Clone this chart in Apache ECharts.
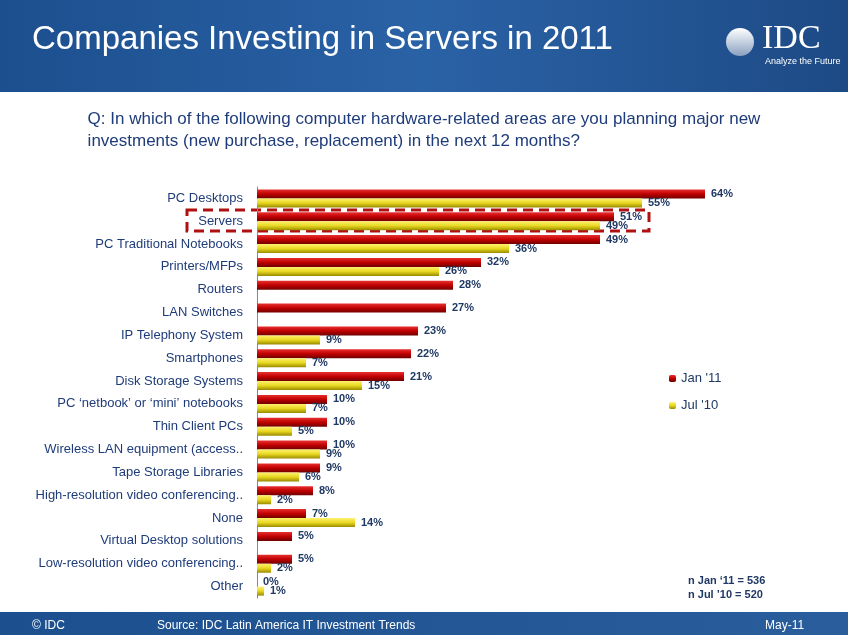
<!DOCTYPE html>
<html><head><meta charset="utf-8">
<script src="https://cdn.jsdelivr.net/npm/echarts@6/dist/echarts.min.js"></script>
<style>html,body{margin:0;padding:0;background:#fff}#c{width:848px;height:635px}</style>
</head><body><div id="c"></div>
<script>
const categories = ["PC Desktops","Servers","PC Traditional Notebooks","Printers/MFPs","Routers","LAN Switches","IP Telephony System","Smartphones","Disk Storage Systems","PC ‘netbook’ or ‘mini’ notebooks","Thin Client PCs","Wireless LAN equipment (access..","Tape Storage Libraries","High-resolution video conferencing..","None","Virtual Desktop solutions","Low-resolution video conferencing..","Other"];
const jan11 = [64,51,49,32,28,27,23,22,21,10,10,10,9,8,7,5,5,0];
const jul10 = [55,49,36,26,null,null,9,7,15,7,5,9,6,2,14,null,2,1];
const chart = echarts.init(document.getElementById('c'));
const lbl = {show:true,position:'right',distance:6,formatter:p=>p.value==null?'':p.value+'%',color:'#1f3864',fontWeight:'bold',fontSize:11,fontFamily:'Arial, Liberation Sans'};
chart.setOption({
  animation:false,
  graphic:[
    {type:'rect',shape:{x:0,y:0,width:848,height:92},style:{fill:new echarts.graphic.LinearGradient(0,0,1,0,[{offset:0,color:'#1c4f8e'},{offset:0.5,color:'#2a62a6'},{offset:1,color:'#1d4a85'}])}},
    {type:'text',left:32,top:23,style:{text:'Companies Investing in Servers in 2011',fill:'#fff',font:'33px Liberation Sans Narrow, Arial',shadowColor:'rgba(0,0,0,0.6)',shadowBlur:3,shadowOffsetX:2,shadowOffsetY:2}},
    {type:'text',left:762,top:22,style:{text:'IDC',fill:'#fff',font:'34px Liberation Serif, serif'}},
    {type:'text',left:765,top:57,style:{text:'Analyze the Future',fill:'#fff',font:'9px Liberation Sans Narrow, Arial'}},
    {type:'circle',shape:{cx:740,cy:42,r:14},style:{fill:new echarts.graphic.LinearGradient(0,0,0,1,[{offset:0,color:'#ffffff'},{offset:1,color:'#8aa0c0'}])}},
    {type:'text',left:'center',top:108,style:{text:'Q: In which of the following computer hardware-related areas are you planning major new\ninvestments (new purchase, replacement) in the next 12 months?',fill:'#1f3c7a',font:'17px Arial, Liberation Sans',align:'center',lineHeight:22}},
    {type:'rect',shape:{x:187,y:210,width:462,height:21},style:{fill:'none',stroke:'#b01010',lineWidth:3,lineDash:[10,6]}},
    {type:'text',left:688,top:574,style:{text:'n Jan ‘11 = 536\nn Jul ’10 = 520',fill:'#1f3864',font:'bold 11px Arial, Liberation Sans',lineHeight:14}},
    {type:'rect',shape:{x:0,y:612,width:848,height:23},style:{fill:new echarts.graphic.LinearGradient(0,0,1,0,[{offset:0,color:'#1c4f8e'},{offset:1,color:'#2a5d9c'}])}},
    {type:'text',left:32,top:620,style:{text:'© IDC',fill:'#fff',font:'12px Arial, Liberation Sans'}},
    {type:'text',left:157,top:620,style:{text:'Source: IDC Latin America IT Investment Trends',fill:'#fff',font:'12px Arial, Liberation Sans'}},
    {type:'text',left:765,top:620,style:{text:'May-11',fill:'#fff',font:'12px Arial, Liberation Sans'}}
  ],
  legend:{orient:'vertical',left:664,top:367,itemWidth:7,itemHeight:7,itemGap:14,textStyle:{color:'#1f3864',fontSize:13,fontFamily:'Arial, Liberation Sans'},data:['Jan \'11','Jul \'10']},
  grid:{left:257,top:187,width:560,height:411},
  xAxis:{type:'value',min:0,max:80,show:false},
  yAxis:{type:'category',inverse:true,data:categories,axisLine:{lineStyle:{color:'#888'}},axisTick:{show:false},axisLabel:{color:'#1f3c7a',fontSize:13,fontFamily:'Arial, Liberation Sans',margin:14}},
  series:[
    {name:'Jan \'11',type:'bar',data:jan11,barWidth:9,barGap:'0%',itemStyle:{color:new echarts.graphic.LinearGradient(0,0,0,1,[{offset:0,color:'#e83030'},{offset:0.5,color:'#c00000'},{offset:1,color:'#700000'}])},label:lbl},
    {name:'Jul \'10',type:'bar',data:jul10,barWidth:9,itemStyle:{color:new echarts.graphic.LinearGradient(0,0,0,1,[{offset:0,color:'#fff270'},{offset:0.5,color:'#e8d820'},{offset:1,color:'#9a8a00'}])},label:lbl}
  ]
});
</script></body></html>
